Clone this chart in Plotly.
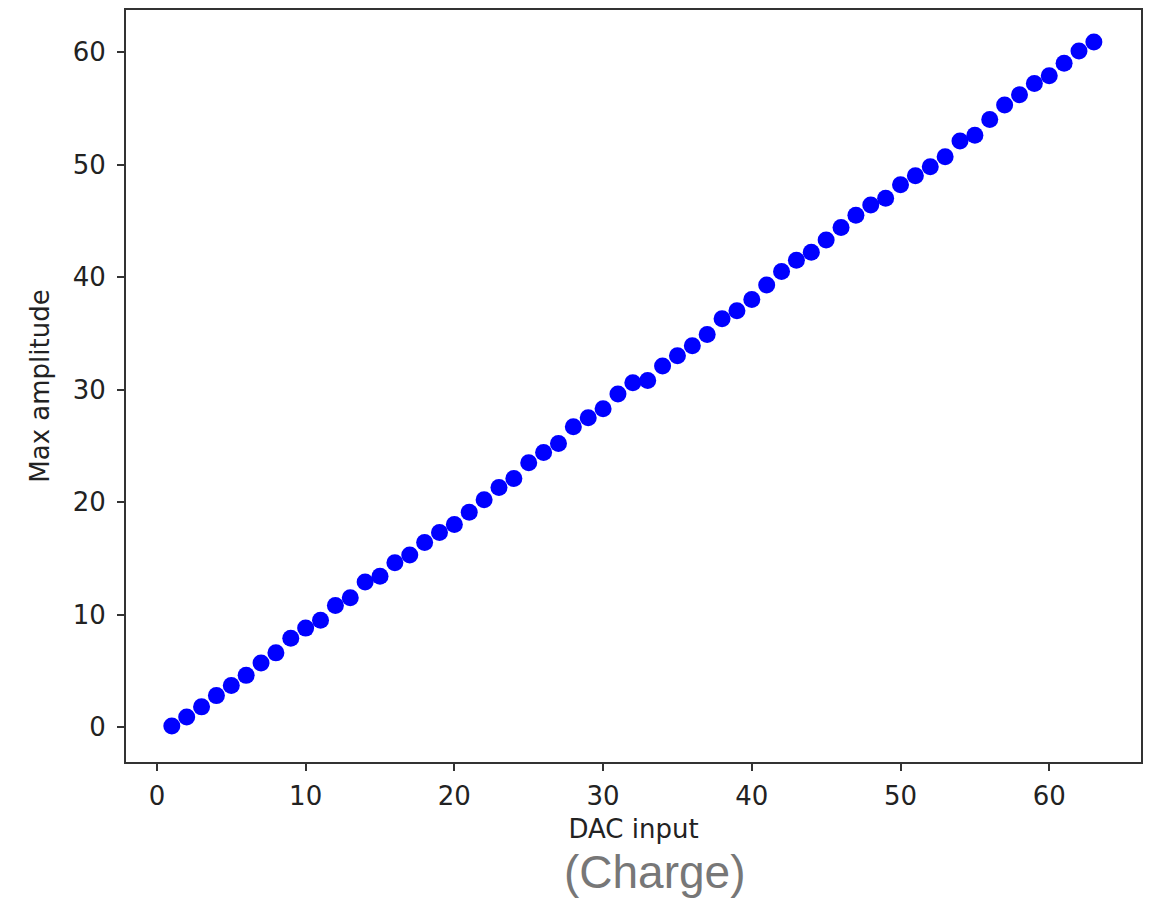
import plotly.graph_objects as go

# DAC input codes and measured maximum amplitude
dac_input = list(range(1, 64))
max_amplitude = [
    0.1, 0.9, 1.8, 2.8, 3.7, 4.6, 5.7, 6.6, 7.9, 8.8,
    9.5, 10.8, 11.5, 12.9, 13.4, 14.6, 15.3, 16.4, 17.3, 18.0,
    19.1, 20.2, 21.3, 22.1, 23.5, 24.4, 25.2, 26.7, 27.5, 28.3,
    29.6, 30.6, 30.8, 32.1, 33.0, 33.9, 34.9, 36.3, 37.0, 38.0,
    39.3, 40.5, 41.5, 42.2, 43.3, 44.4, 45.5, 46.4, 47.0, 48.2,
    49.0, 49.8, 50.7, 52.1, 52.6, 54.0, 55.3, 56.2, 57.2, 57.9,
    59.0, 60.1, 60.9,
]
x_ticks = [0, 10, 20, 30, 40, 50, 60]
y_ticks = [0, 10, 20, 30, 40, 50, 60]

text_font = dict(family="DejaVu Sans", size=26, color="#222222")

fig = go.Figure(
    go.Scatter(
        x=dac_input,
        y=max_amplitude,
        mode="markers",
        marker=dict(color="#0000ff", size=17, line=dict(width=0)),
    )
)

axis_common = dict(
    showgrid=False,
    zeroline=False,
    showline=True,
    linecolor="#333333",
    linewidth=2,
    mirror=True,
    ticks="outside",
    ticklen=7,
    tickwidth=2,
    tickcolor="#333333",
    tickfont=text_font,
)

fig.update_layout(
    width=1154,
    height=921,
    margin=dict(l=126, r=13, t=8, b=159),
    paper_bgcolor="white",
    plot_bgcolor="white",
    showlegend=False,
    xaxis=dict(
        range=[-2.08, 66.17],
        tickvals=x_ticks,
        ticklabelstandoff=3,
        title=dict(text="DAC input", font=text_font, standoff=10),
        **axis_common,
    ),
    yaxis=dict(
        range=[-3.1, 63.74],
        tickvals=y_ticks,
        ticklabelstandoff=6,
        title=dict(text="Max amplitude", font=text_font, standoff=16),
        **axis_common,
    ),
    annotations=[
        dict(
            text="(Charge)",
            xref="paper",
            yref="paper",
            x=(655 - 126) / (1154 - 126 - 13),
            y=-(872 - 762) / (921 - 8 - 159),
            xanchor="center",
            yanchor="middle",
            showarrow=False,
            font=dict(family="Liberation Sans", size=46, color="#777777"),
        )
    ],
)

fig.write_html("out.html")
